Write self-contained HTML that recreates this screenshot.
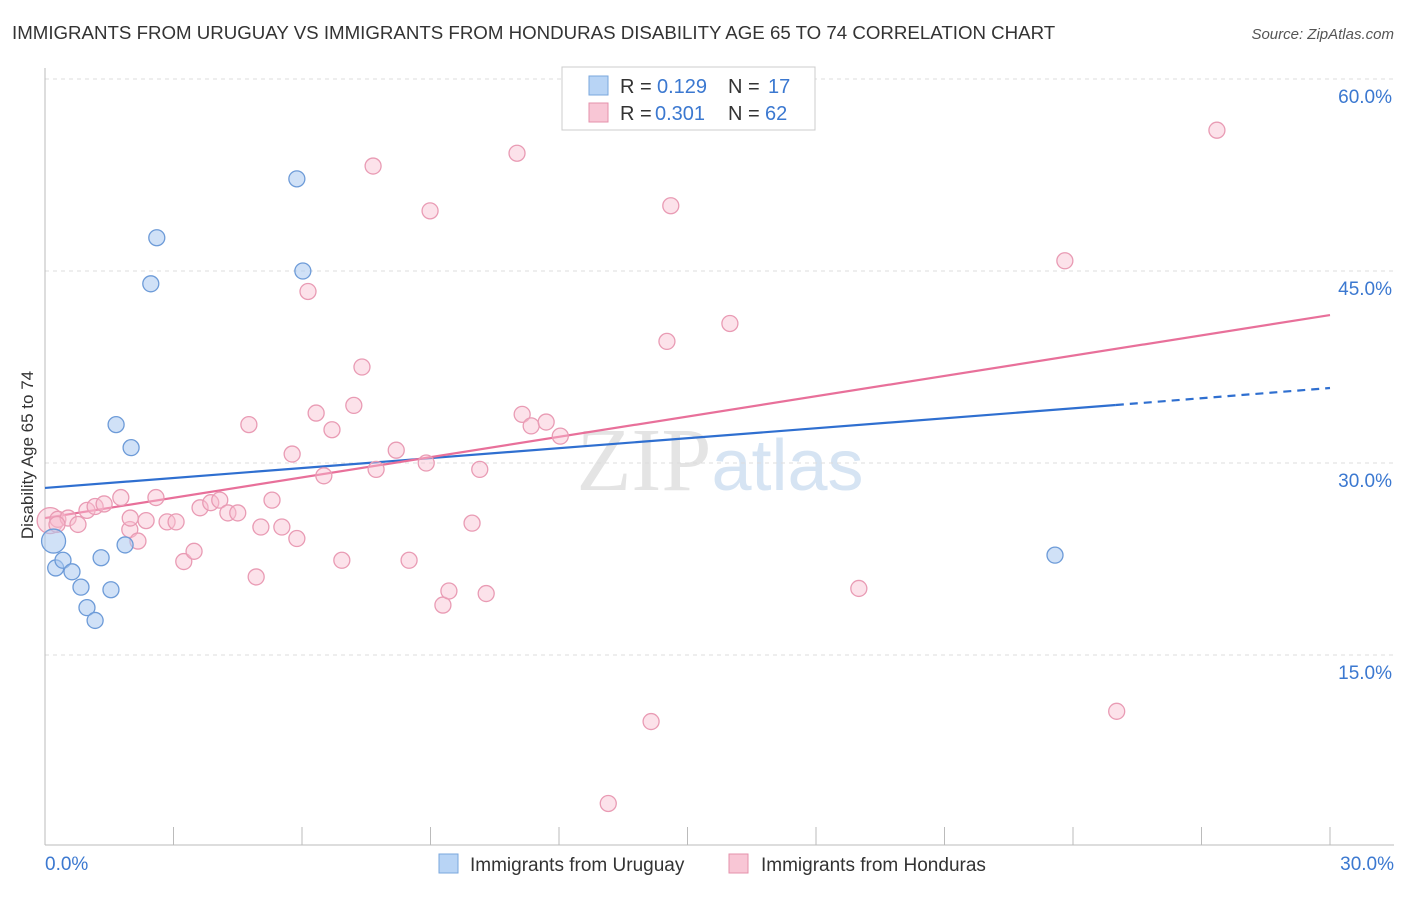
<!DOCTYPE html>
<html><head><meta charset="utf-8"><style>
body{margin:0;background:#fff;font-family:"Liberation Sans",sans-serif}
</style></head><body>
<svg id="chart" width="1406" height="892" xmlns="http://www.w3.org/2000/svg" font-family="Liberation Sans, sans-serif">
<text x="12" y="39" font-size="18.7" fill="#333">IMMIGRANTS FROM URUGUAY VS IMMIGRANTS FROM HONDURAS DISABILITY AGE 65 TO 74 CORRELATION CHART</text>
<text x="1394" y="39" font-size="15" fill="#555" text-anchor="end" font-style="italic">Source: ZipAtlas.com</text>
<text x="720" y="490" font-size="90" fill="#e4e4e4" text-anchor="middle" font-family="Liberation Serif, serif">ZIP<tspan fill="#d6e4f3" font-family="Liberation Sans, sans-serif" font-size="72">atlas</tspan></text>
<text transform="translate(33,455) rotate(-90)" font-size="17" fill="#333" text-anchor="middle">Disability Age 65 to 74</text>
<g id="grid"></g><g id="axes"></g><g id="lines"></g><g id="points"></g>
<g>
<rect x="562" y="67" width="253" height="63" fill="#fff" stroke="#ccc"/>
<rect x="589" y="76" width="19" height="19" fill="#b8d4f5" stroke="#7aa7dd"/>
<text x="620" y="93" font-size="20" fill="#333">R =</text><text x="657" y="93" font-size="20" fill="#3b78d0">0.129</text>
<text x="728" y="93" font-size="20" fill="#333">N =</text><text x="768" y="93" font-size="20" fill="#3b78d0">17</text>
<rect x="589" y="103" width="19" height="19" fill="#f8c6d5" stroke="#e591ab"/>
<text x="620" y="120" font-size="20" fill="#333">R =</text><text x="655" y="120" font-size="20" fill="#3b78d0">0.301</text>
<text x="728" y="120" font-size="20" fill="#333">N =</text><text x="765" y="120" font-size="20" fill="#3b78d0">62</text>
</g>
<g>
<rect x="439" y="854" width="19" height="19" fill="#b8d4f5" stroke="#7aa7dd"/>
<text x="470" y="871" font-size="19" fill="#333">Immigrants from Uruguay</text>
<rect x="729" y="854" width="19" height="19" fill="#f8c6d5" stroke="#e591ab"/>
<text x="761" y="871" font-size="19" fill="#333">Immigrants from Honduras</text>
</g>
</svg>
<script>
const yTicks=[15,30,45,60];
const xTickLabels=["0.0%","30.0%"];
const uruguayX=[0.2,0.25,0.42,0.63,0.84,0.98,1.17,1.31,1.54,1.66,1.87,2.01,2.47,2.61,5.88,6.02,23.58];
const uruguayY=[23.9,21.8,22.4,21.5,20.3,18.7,17.7,22.6,20.1,33.0,23.6,31.2,44.0,47.6,52.2,45.0,22.8];
const hondurasX=[0.12,0.3,0.54,0.77,0.98,1.17,1.38,1.98,1.77,1.99,2.17,2.36,2.59,2.85,3.06,3.24,3.48,3.62,3.87,4.08,4.27,4.5,4.76,4.93,5.04,5.3,5.53,5.77,5.88,6.14,6.33,6.51,6.7,6.93,7.21,7.4,7.66,7.73,8.2,8.5,8.9,8.99,9.29,9.43,9.97,10.15,10.3,11.02,11.14,11.35,11.7,12.03,13.15,14.15,14.52,14.61,15.99,19.0,23.81,25.02,27.36,0.28];
const hondurasY=[25.5,25.6,25.7,25.2,26.3,26.6,26.8,24.8,27.3,25.7,23.9,25.5,27.3,25.4,25.4,22.3,23.1,26.5,26.9,27.1,26.1,26.1,33.0,21.1,25.0,27.1,25.0,30.7,24.1,43.4,33.9,29.0,32.6,22.4,34.5,37.5,53.2,29.5,31.0,22.4,30.0,49.7,18.9,20.0,25.3,29.5,19.8,54.2,33.8,32.9,33.2,32.1,3.4,9.8,39.5,50.1,40.9,20.2,45.8,10.6,56.0,25.2];
const uruLine=[[0,28.05],[25,34.53]], uruDash=[[25,34.53],[30,35.86]];
const honLine=[[0,25.7],[30,41.56]];
const X0=45,X1=1330,Y0=847,PPU=12.8;
const sx=v=>X0+v/30*(X1-X0), sy=v=>Y0-v*PPU;
const NS="http://www.w3.org/2000/svg";
function mk(tag,attrs,parent){const e=document.createElementNS(NS,tag);for(const k in attrs)e.setAttribute(k,attrs[k]);document.getElementById(parent).appendChild(e);return e;}
yTicks.forEach(t=>{
 const g=mk('line',{x1:45,x2:1394,y1:sy(t),y2:sy(t),stroke:'#ddd','stroke-dasharray':'4,4'},'grid');
 
 
 const l=mk('text',{x:1392,y:sy(t)+24,'font-size':19,fill:'#3b78d0','text-anchor':'end'},'grid');
 
 
 l.textContent=t.toFixed(1)+'%';
});
const ax=mk('line',{x1:45,x2:1394,y1:845,y2:845,stroke:'#bbb'},'axes');


const ay=mk('line',{x1:45,x2:45,y1:68,y2:845,stroke:'#bbb'},'axes');


for(let i=0;i<=10;i++){const t=mk('line',{x1:sx(i*3),x2:sx(i*3),y1:827,y2:845,stroke:'#bbb'},'axes');
 
 }
[[0,45,'start'],[1,1394,'end']].forEach(([i,x,a])=>{const t=mk('text',{x:x,y:870,'font-size':19,fill:'#3b78d0','text-anchor':a},'axes');
 
 
 t.textContent=xTickLabels[i];});
function ln(p,col,dash,name){const e=mk('line',{x1:sx(p[0][0]),y1:sy(p[0][1]),x2:sx(p[1][0]),y2:sy(p[1][1]),stroke:col,'stroke-width':2.2,'stroke-dasharray':dash||'none'},'lines');
 
 }
ln(uruLine,'#2f6fd0',null,'trend-uruguay');ln(uruDash,'#2f6fd0','8,6','trend-uruguay-extension');ln(honLine,'#e8709a',null,'trend-honduras');
hondurasX.forEach((x,i)=>{const c=mk('circle',{cx:sx(x),cy:sy(hondurasY[i]),r:i==0?13:8,fill:'rgba(248,190,208,0.45)',stroke:'#e99bb4','stroke-width':1.3},'points');
 
 });
uruguayX.forEach((x,i)=>{const c=mk('circle',{cx:sx(x),cy:sy(uruguayY[i]),r:i==0?12:8,fill:'rgba(170,200,240,0.55)',stroke:'#6d9bd8','stroke-width':1.3},'points');
 
 });
</script>
</body></html>
